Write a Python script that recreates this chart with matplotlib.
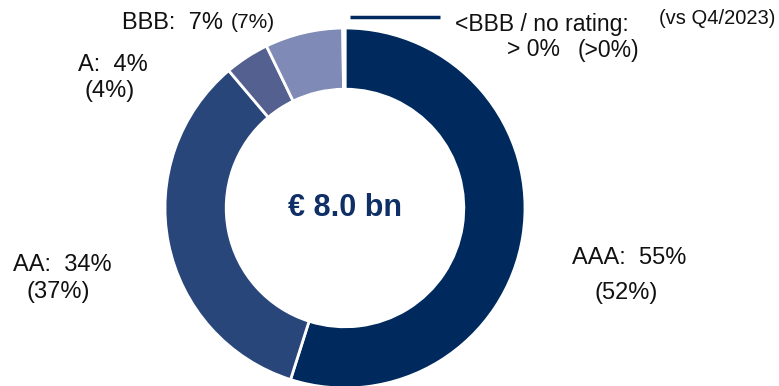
import matplotlib
matplotlib.use('Agg')
import matplotlib.pyplot as plt

plt.rcParams['font.family'] = ['Liberation Sans', 'DejaVu Sans']

# rating split, clockwise from 12 o'clock
ratings = ['AAA', 'AA', 'A', 'BBB', '<BBB / no rating']
shares = [55, 34, 4, 7, 0.2]          # current quarter, %
shares_prev = ['52%', '37%', '4%', '7%', '>0%']  # vs Q4/2023
colors = ['#002a5e', '#29467a', '#54608f', '#7f8bb6', '#002a5e']
total_label = '€ 8.0 bn'

W, H = 779, 386
fig = plt.figure(figsize=(W / 100, H / 100), dpi=100)
ax = fig.add_axes([0, 0, 1, 1])

cx, cy, r = 345, H - 208, 180
ax.pie(shares, colors=colors, startangle=90, counterclock=False,
       center=(cx, cy), radius=r, frame=True,
       wedgeprops=dict(width=r * 0.34, edgecolor='white', linewidth=2))
ax.set_xlim(0, W)
ax.set_ylim(0, H)
ax.axis('off')

ax.text(cx, cy, total_label, ha='center', va='center', fontsize=22,
        fontweight='bold', color='#0f2f66')


def put(x, y, s, size=17, ha='left'):
    ax.text(x, H - y, s, ha=ha, va='center', fontsize=size, color='#111111')


# AAA
put(572, 258, f'{ratings[0]}:  {shares[0]}%')
put(595, 293, f'({shares_prev[0]})')
# AA
put(13, 265, f'{ratings[1]}:  {shares[1]}%')
put(27, 292, f'({shares_prev[1]})')
# A
put(78, 65, f'{ratings[2]}:  {shares[2]}%')
put(85, 91, f'({shares_prev[2]})')
# BBB
put(122, 23, f'{ratings[3]}:  {shares[3]}%')
put(231, 22, f'({shares_prev[3]})', size=15)
# <BBB / no rating
put(455, 25, f'{ratings[4]}:', size=16.5)
put(507, 50, '> 0%', size=16.5)
put(578, 50, f'({shares_prev[4]})', size=16.5)
put(775, 19, '(vs Q4/2023)', size=14.5, ha='right')

# leader line to the tiny slice at the top
ax.plot([350, 440], [H - 17, H - 17], color='#002a5e', lw=2.5,
        solid_capstyle='butt')

fig.savefig('out.png', dpi=100)
